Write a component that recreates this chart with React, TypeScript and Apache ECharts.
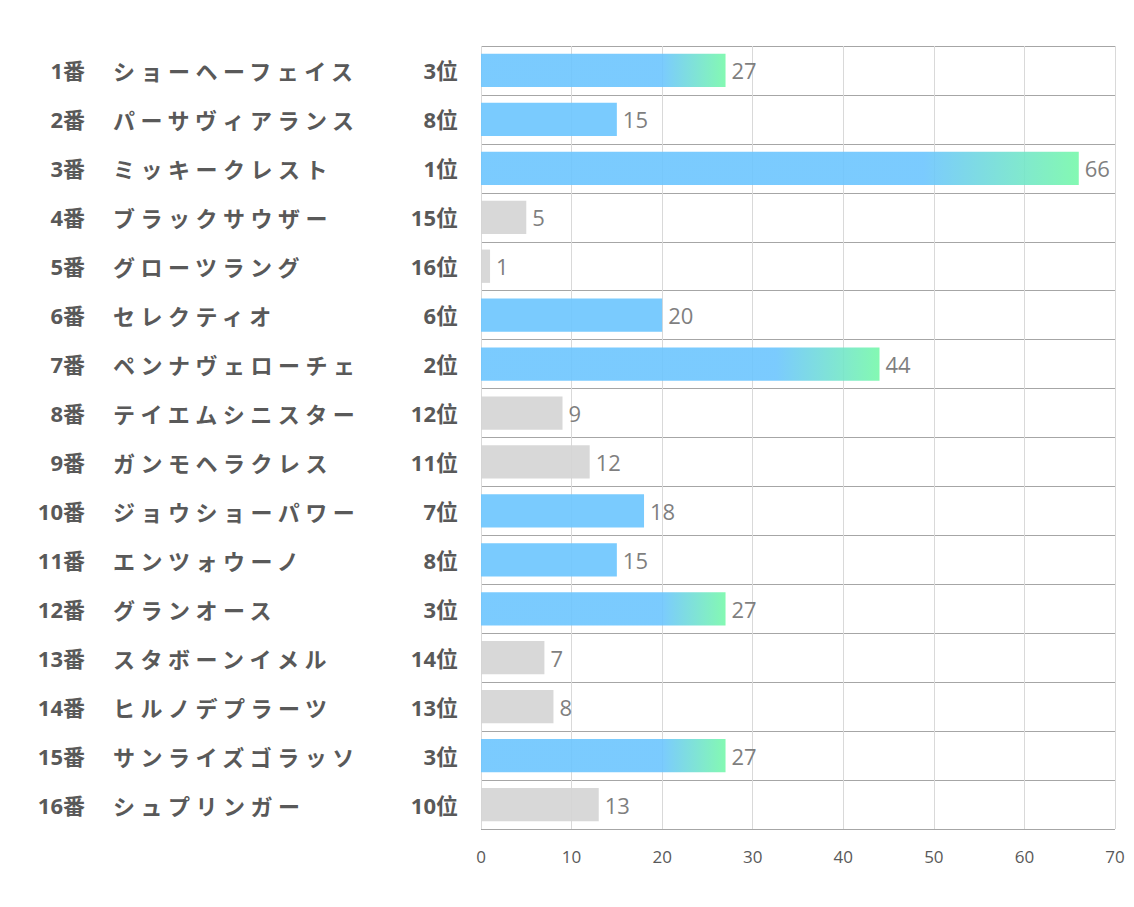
import React, { useEffect, useRef } from "react";
import * as echarts from "echarts";

const horseNumbers = ["1番", "2番", "3番", "4番", "5番", "6番", "7番", "8番", "9番", "10番", "11番", "12番", "13番", "14番", "15番", "16番"];
const horseNames = [
  "ショーヘーフェイス",
  "パーサヴィアランス",
  "ミッキークレスト",
  "ブラックサウザー",
  "グローツラング",
  "セレクティオ",
  "ペンナヴェローチェ",
  "テイエムシニスター",
  "ガンモヘラクレス",
  "ジョウショーパワー",
  "エンツォウーノ",
  "グランオース",
  "スタボーンイメル",
  "ヒルノデプラーツ",
  "サンライズゴラッソ",
  "シュプリンガー",
];
const ranks = [3, 8, 1, 15, 16, 6, 2, 12, 11, 7, 8, 3, 14, 13, 3, 10];
const values = [27, 15, 66, 5, 1, 20, 44, 9, 12, 18, 15, 27, 7, 8, 27, 13];
const xTicks = [0, 10, 20, 30, 40, 50, 60, 70];

const BLUE = "rgba(108,197,254,0.9)";
const GREEN = "rgba(118,248,170,0.9)";
const GRAY = "rgba(213,213,213,0.92)";

const LABEL_BASE = {
  fontSize: 22,
  fontWeight: "bold",
  color: "#595959",
};
const MIXED_FONT = "'Open Sans', 'Noto Sans CJK SC'";

export default function App() {
  const ref = useRef<HTMLDivElement>(null);

  useEffect(() => {
    if (!ref.current) return;
    const chart = echarts.init(ref.current, null, { renderer: "svg" });
    const rankLabels = ranks.map((r) => `${r}位`);
    const data = values.map((v, i) => {
      const r = ranks[i];
      let color: any = GRAY;
      if (r <= 3) {
        color = new echarts.graphic.LinearGradient(0, 0, 1, 0, [
          { offset: 0, color: BLUE },
          { offset: 0.74, color: BLUE },
          { offset: 1, color: GREEN },
        ]);
      } else if (r <= 8) {
        color = BLUE;
      }
      return { value: v, itemStyle: { color } };
    });
    const baseY = {
      type: "category",
      inverse: true,
      position: "left",
      axisLine: { show: false },
      axisTick: { show: false },
    };
    chart.setOption({
      animation: false,
      grid: { left: 481, right: 19, top: 46, bottom: 78 },
      xAxis: {
        type: "value",
        min: xTicks[0],
        max: xTicks[xTicks.length - 1],
        interval: 10,
        axisLine: { show: false },
        axisTick: { show: false },
        axisLabel: {
          color: "#595959",
          fontSize: 17,
          fontFamily: "Open Sans",
          margin: 19,
        },
        splitLine: { show: true, lineStyle: { color: "#D9D9D9", width: 1 } },
      },
      yAxis: [
        {
          ...baseY,
          data: rankLabels,
          splitLine: { show: true, lineStyle: { color: "#A6A6A6", width: 1 } },
          axisLabel: { ...LABEL_BASE, fontFamily: MIXED_FONT, margin: 23 },
        },
        {
          ...baseY,
          data: horseNames,
          splitLine: { show: false },
          axisLabel: { ...LABEL_BASE, fontFamily: "Noto Sans CJK JP", margin: 368, align: "left" },
        },
        {
          ...baseY,
          data: horseNumbers,
          splitLine: { show: false },
          axisLabel: { ...LABEL_BASE, fontFamily: MIXED_FONT, margin: 396 },
        },
      ],
      series: [
        {
          type: "bar",
          yAxisIndex: 0,
          data,
          barCategoryGap: "32%",
          label: {
            show: true,
            position: "right",
            distance: 6,
            color: "#7F7F7F",
            fontSize: 22,
            fontFamily: "Open Sans",
          },
        },
      ],
    });
    return () => chart.dispose();
  }, []);

  return (
    <>
      <style>{`text[style*="CJK JP"]{letter-spacing:5.5px;}`}</style>
      <div
        ref={ref}
        style={{ position: "fixed", left: 0, top: 0, width: 1134, height: 907, background: "#fff" }}
      />
    </>
  );
}
